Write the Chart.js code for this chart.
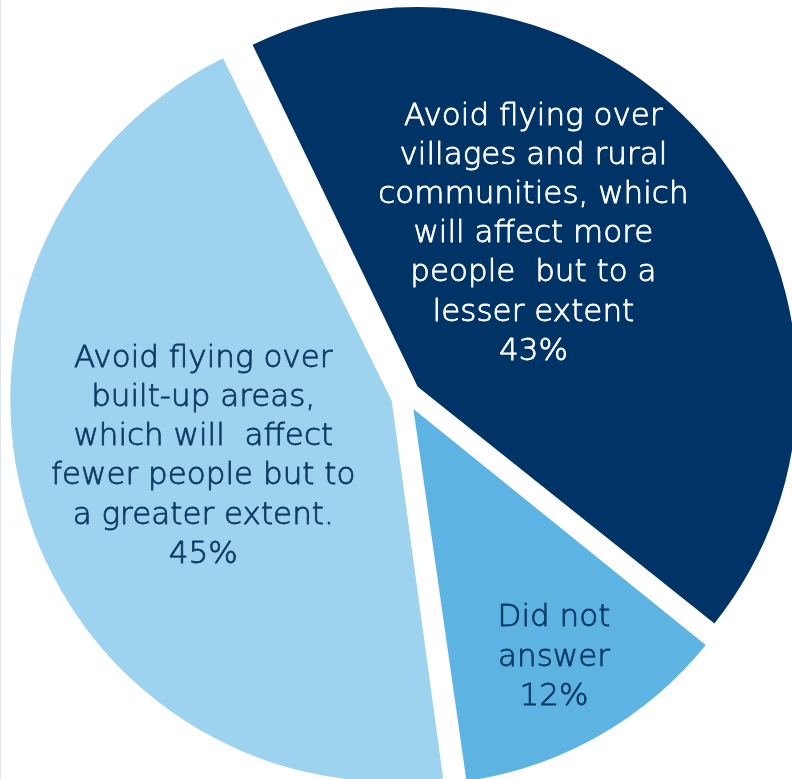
<!DOCTYPE html>
<html>
<head>
<meta charset="utf-8">
<script src="https://cdn.jsdelivr.net/npm/chart.js@4.4.1/dist/chart.umd.min.js"></script>
<style>
  html, body { margin: 0; padding: 0; background: #ffffff; overflow: hidden; }
  #wrap { position: relative; width: 792px; height: 779px; }
  #edge { position: absolute; left: 0; top: 0; width: 1px; height: 779px; background: #dfe6ee; }
  canvas { position: absolute; left: 0; top: 0; }
</style>
</head>
<body>
<div id="wrap">
  <canvas id="c" width="792" height="779"></canvas>
  <div id="edge"></div>
</div>
<script>
// ---- data ----
const categories = [
  "Avoid flying over villages and rural communities, which will affect more people  but to a lesser extent",
  "Did not answer",
  "Avoid flying over built-up areas, which will  affect fewer people but to a greater extent."
];
const values = [43, 12, 45];
const labelLines = [
  ["Avoid flying over", "villages and rural", "communities, which", "will affect more", "people  but to a", "lesser extent"],
  ["Did not", "answer"],
  ["Avoid flying over", "built-up areas,", "which will  affect", "fewer people but to", "a greater extent."]
];

// ---- styles ----
const sliceColors = ["#003366", "#5DB4E3", "#9DD3EE"];
const textColors = ["#ffffff", "#0E3A66", "#0E3A66"];
// label placement: angle (deg, clockwise from top) and distance as fraction of radius, measured from pie centre
const labelPlacement = [
  { angle: 38.2, dist: 0.545 },
  { angle: 150.5, dist: 0.795 },
  { angle: 253.3, dist: 0.56 }
];
const FONT = "200 31px 'DejaVu Sans', sans-serif";
const LINE_H = 39.2;

const labelPlugin = {
  id: 'sliceLabels',
  afterDatasetsDraw(chart) {
    const ctx = chart.ctx;
    const meta = chart.getDatasetMeta(0);
    ctx.save();
    ctx.font = FONT;
    ctx.textAlign = 'center';
    ctx.textBaseline = 'middle';
    ctx.lineWidth = 0.8;
    ctx.lineJoin = 'round';
    meta.data.forEach((arc, i) => {
      const p = labelPlacement[i];
      const a = p.angle * Math.PI / 180;
      const r = p.dist * 378;
      const cx = arc.x + r * Math.sin(a);
      const cy = arc.y - r * Math.cos(a);
      const lines = labelLines[i].concat([values[i] + "%"]);
      const top = cy - (lines.length - 1) * LINE_H / 2;
      ctx.fillStyle = textColors[i];
      ctx.strokeStyle = textColors[i];
      lines.forEach((ln, k) => {
        ctx.fillText(ln, cx, top + k * LINE_H);
        ctx.strokeText(ln, cx, top + k * LINE_H);
      });
    });
    ctx.restore();
  }
};

new Chart(document.getElementById('c'), {
  type: 'pie',
  data: {
    labels: categories,
    datasets: [{
      data: values,
      backgroundColor: sliceColors,
      borderWidth: 0,
      offset: 60,
      hoverOffset: 0,
      clip: false
    }]
  },
  options: {
    responsive: false,
    animation: false,
    rotation: -26,
    radius: 371,
    layout: { padding: { left: 20, right: 0, top: 13, bottom: 0 } },
    plugins: {
      legend: { display: false },
      tooltip: { enabled: false }
    },
    events: []
  },
  plugins: [labelPlugin]
});
</script>
</body>
</html>
